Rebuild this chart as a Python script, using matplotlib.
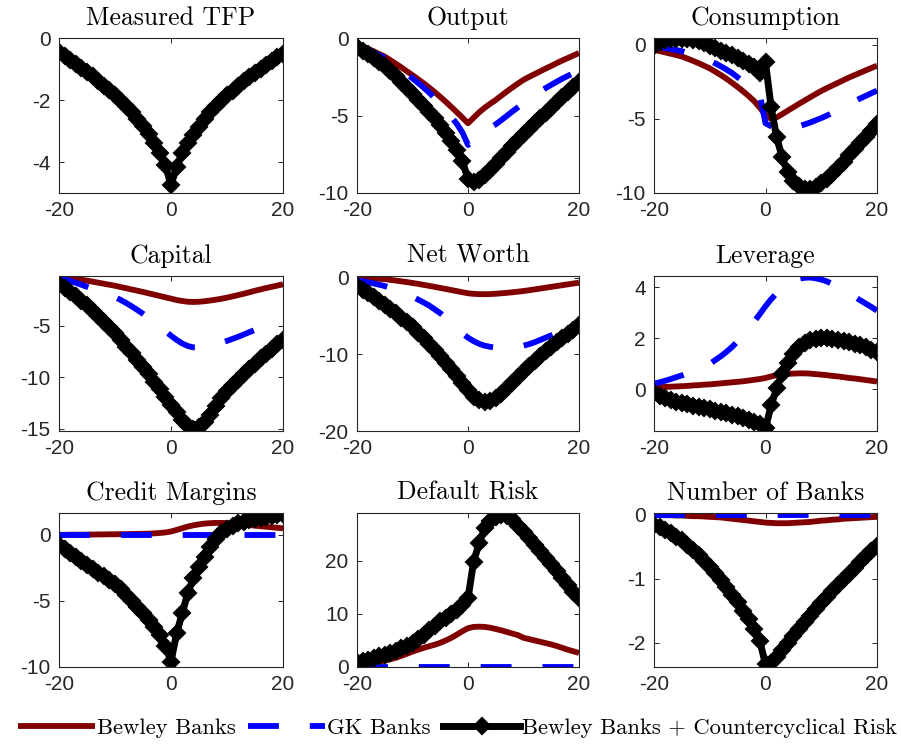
import matplotlib
matplotlib.use("Agg")
import matplotlib.pyplot as plt
import numpy as np

plt.rcParams['axes.unicode_minus'] = False

t = list(range(-20, 21))

titles = ["Measured TFP", "Output", "Consumption", "Capital", "Net Worth",
          "Leverage", "Credit Margins", "Default Risk", "Number of Banks"]
series_labels = ["Bewley Banks", "GK Banks", "Bewley Banks + Countercyclical Risk"]

# ---- Measured TFP (identical in all three economies) ----
tfp = [-0.45, -0.57, -0.70, -0.83, -0.96, -1.10, -1.24, -1.39, -1.54, -1.69, -1.85,
       -2.02, -2.20, -2.39, -2.60, -2.85, -3.10, -3.38, -3.70, -4.10, -4.75,
       -4.15, -3.72, -3.40, -3.12, -2.87, -2.62, -2.40, -2.20, -2.02, -1.85,
       -1.70, -1.55, -1.40, -1.26, -1.12, -0.99, -0.86, -0.73, -0.61, -0.50]

# ---- Output ----
out_bewley = [-0.40, -0.55, -0.70, -0.86, -1.03, -1.20, -1.43, -1.66, -1.90, -2.15, -2.40,
              -2.66, -2.92, -3.20, -3.49, -3.80, -4.12, -4.45, -4.79, -5.14, -5.50,
              -5.15, -4.80, -4.50, -4.24, -4.00, -3.72, -3.45, -3.19, -2.94, -2.70,
              -2.51, -2.33, -2.15, -1.97, -1.80, -1.62, -1.45, -1.29, -1.13, -0.97]
out_gk = [-0.40, -0.57, -0.74, -0.92, -1.10, -1.30, -1.55, -1.80, -2.06, -2.33, -2.60,
          -2.90, -3.20, -3.52, -3.88, -4.25, -4.65, -5.08, -5.55, -6.10, -6.90,
          -6.60, -6.30, -6.03, -5.80, -5.57, -5.30, -5.02, -4.74, -4.47, -4.20,
          -3.95, -3.70, -3.45, -3.23, -3.02, -2.82, -2.62, -2.44, -2.27, -2.10]
out_ccr = [-0.60, -0.83, -1.06, -1.30, -1.55, -1.80, -2.14, -2.48, -2.84, -3.21, -3.60,
           -3.98, -4.37, -4.77, -5.18, -5.60, -6.10, -6.62, -7.20, -7.95, -9.10,
           -9.30, -9.15, -8.85, -8.50, -8.12, -7.73, -7.35, -6.96, -6.58, -6.20,
           -5.85, -5.50, -5.16, -4.83, -4.50, -4.15, -3.82, -3.49, -3.17, -2.85]

# ---- Consumption ----
con_bewley = [-0.35, -0.43, -0.52, -0.61, -0.70, -0.80, -0.94, -1.09, -1.25, -1.42, -1.60,
              -1.82, -2.05, -2.30, -2.57, -2.85, -3.15, -3.47, -3.82, -4.25, -4.75,
              -5.00, -4.90, -4.68, -4.45, -4.22, -3.99, -3.77, -3.55, -3.33, -3.12,
              -2.93, -2.75, -2.57, -2.39, -2.21, -2.05, -1.89, -1.73, -1.57, -1.42]
con_gk = [-0.10, -0.15, -0.22, -0.29, -0.36, -0.44, -0.55, -0.67, -0.80, -0.94, -1.08,
          -1.26, -1.46, -1.68, -1.91, -2.20, -2.48, -2.76, -3.05, -3.40, -5.30,
          -5.50, -5.68, -5.72, -5.68, -5.60, -5.50, -5.38, -5.25, -5.10, -4.95,
          -4.78, -4.60, -4.40, -4.20, -4.00, -3.80, -3.62, -3.45, -3.27, -3.10]
con_ccr = [-0.10, 0.15, 0.30, 0.35, 0.40, 0.40, 0.38, 0.33, 0.22, 0.08, -0.10,
           -0.25, -0.40, -0.55, -0.72, -0.90, -1.08, -1.30, -1.50, -1.90, -1.20,
           -4.20, -6.25, -7.60, -8.60, -9.20, -9.50, -9.70, -9.75, -9.60, -9.35,
           -9.05, -8.70, -8.30, -7.90, -7.45, -7.00, -6.60, -6.20, -5.80, -5.35]

# ---- Capital ----
cap_bewley = [-0.15, -0.24, -0.33, -0.42, -0.51, -0.60, -0.70, -0.80, -0.90, -1.00, -1.10,
              -1.22, -1.34, -1.46, -1.58, -1.70, -1.83, -1.96, -2.09, -2.22, -2.35,
              -2.48, -2.58, -2.65, -2.67, -2.65, -2.60, -2.53, -2.45, -2.36, -2.25,
              -2.13, -2.00, -1.87, -1.73, -1.58, -1.45, -1.32, -1.20, -1.08, -0.96]
cap_gk = [-0.30, -0.46, -0.63, -0.81, -1.00, -1.20, -1.39, -1.58, -1.78, -1.98, -2.20,
          -2.47, -2.77, -3.10, -3.45, -3.82, -4.22, -4.63, -5.05, -5.50, -5.95,
          -6.35, -6.70, -6.95, -7.08, -7.10, -7.05, -6.95, -6.80, -6.62, -6.45,
          -6.25, -6.05, -5.83, -5.60, -5.38, -5.17, -4.97, -4.78, -4.60, -4.42]
cap_ccr = [-0.90, -1.30, -1.71, -2.13, -2.56, -3.00, -3.52, -4.05, -4.58, -5.13, -5.70,
           -6.35, -7.00, -7.65, -8.32, -9.00, -9.70, -10.42, -11.15, -11.90, -12.70,
           -13.40, -14.10, -14.70, -15.00, -14.80, -14.30, -13.60, -12.80, -12.00, -11.30,
           -10.70, -10.20, -9.70, -9.15, -8.65, -8.15, -7.70, -7.25, -6.80, -6.40]

# ---- Net Worth ----
nw_bewley = [0.05, 0.01, -0.03, -0.07, -0.11, -0.15, -0.24, -0.34, -0.44, -0.54, -0.65,
             -0.77, -0.90, -1.03, -1.16, -1.30, -1.44, -1.58, -1.72, -1.86, -2.00,
             -2.07, -2.11, -2.12, -2.10, -2.06, -2.00, -1.94, -1.87, -1.79, -1.70,
             -1.60, -1.49, -1.38, -1.27, -1.16, -1.05, -0.94, -0.83, -0.72, -0.61]
nw_gk = [-0.30, -0.42, -0.56, -0.71, -0.88, -1.06, -1.27, -1.50, -1.78, -2.10, -2.45,
         -2.82, -3.20, -3.60, -4.10, -4.60, -5.20, -5.85, -6.55, -7.25, -7.80,
         -8.25, -8.60, -8.85, -9.00, -9.10, -9.15, -9.15, -9.10, -9.00, -8.85,
         -8.65, -8.40, -8.10, -7.80, -7.50, -7.20, -6.90, -6.60, -6.35, -6.10]
nw_ccr = [-1.10, -1.55, -2.02, -2.50, -3.00, -3.50, -4.05, -4.62, -5.20, -5.80, -6.40,
          -7.15, -7.90, -8.65, -9.45, -10.25, -11.10, -11.95, -12.85, -13.75, -14.70,
          -15.50, -16.00, -16.25, -16.10, -15.70, -15.10, -14.40, -13.70, -12.90, -12.15,
          -11.50, -10.85, -10.25, -9.60, -9.00, -8.40, -7.85, -7.30, -6.75, -6.20]

# ---- Leverage ----
lev_bewley = [0.08, 0.09, 0.10, 0.11, 0.12, 0.13, 0.14, 0.16, 0.17, 0.19, 0.20,
              0.22, 0.24, 0.26, 0.28, 0.30, 0.32, 0.35, 0.38, 0.41, 0.45,
              0.51, 0.56, 0.59, 0.61, 0.62, 0.63, 0.63, 0.62, 0.60, 0.58,
              0.56, 0.53, 0.51, 0.48, 0.45, 0.43, 0.40, 0.37, 0.34, 0.31]
lev_gk = [0.23, 0.28, 0.34, 0.41, 0.48, 0.55, 0.63, 0.71, 0.80, 0.90, 1.00,
          1.15, 1.30, 1.47, 1.66, 1.88, 2.12, 2.38, 2.66, 2.95, 3.25,
          3.52, 3.76, 3.96, 4.12, 4.24, 4.32, 4.36, 4.37, 4.34, 4.29,
          4.22, 4.12, 4.00, 3.87, 3.75, 3.62, 3.48, 3.35, 3.22, 3.08]
lev_ccr = [-0.15, -0.25, -0.33, -0.40, -0.47, -0.53, -0.58, -0.63, -0.68, -0.73, -0.78,
           -0.83, -0.88, -0.93, -0.99, -1.05, -1.11, -1.18, -1.26, -1.36, -1.52,
           -0.62, 0.05, 0.62, 1.05, 1.40, 1.65, 1.82, 1.93, 1.99, 2.01,
           2.00, 1.97, 1.93, 1.89, 1.84, 1.78, 1.72, 1.65, 1.55, 1.45]

# ---- Credit Margins ----
cm_bewley = [0.00, 0.00, 0.01, 0.01, 0.01, 0.02, 0.02, 0.03, 0.03, 0.04, 0.04,
             0.05, 0.05, 0.06, 0.07, 0.08, 0.09, 0.11, 0.14, 0.18, 0.25,
             0.37, 0.50, 0.62, 0.72, 0.79, 0.85, 0.88, 0.90, 0.90, 0.89,
             0.86, 0.82, 0.78, 0.74, 0.69, 0.65, 0.61, 0.57, 0.53, 0.49]
cm_gk = [0.0] * 41
cm_ccr = [-0.75, -1.05, -1.35, -1.65, -1.97, -2.30, -2.58, -2.86, -3.13, -3.41, -3.70,
          -4.12, -4.55, -5.00, -5.47, -5.95, -6.45, -7.00, -7.60, -8.40, -9.60,
          -7.45, -5.95, -4.40, -3.30, -2.40, -1.65, -0.95, -0.35, 0.10, 0.45,
          0.70, 0.88, 1.00, 1.10, 1.20, 1.28, 1.36, 1.44, 1.52, 1.60]

# ---- Default Risk ----
dr_bewley = [0.60, 0.70, 0.80, 0.90, 1.00, 1.20, 1.45, 1.75, 2.10, 2.50, 2.90,
             3.25, 3.60, 3.90, 4.20, 4.55, 5.00, 5.50, 6.10, 6.75, 7.30,
             7.55, 7.60, 7.55, 7.40, 7.15, 6.90, 6.60, 6.30, 6.00, 5.50,
             5.25, 5.00, 4.75, 4.50, 4.25, 3.95, 3.60, 3.25, 2.95, 2.65]
dr_gk = [0.0] * 41
dr_ccr = [0.90, 1.15, 1.40, 1.70, 2.00, 2.30, 2.65, 3.05, 3.50, 4.00, 4.50,
          5.20, 6.00, 6.90, 7.80, 8.60, 9.30, 10.00, 10.75, 11.70, 12.90,
          19.80, 23.30, 26.10, 27.40, 28.30, 28.70, 28.40, 27.80, 26.60, 25.40,
          24.20, 23.00, 21.80, 20.60, 19.40, 18.10, 16.80, 15.50, 14.20, 12.90]

# ---- Number of Banks ----
nb_bewley = [0.000, 0.000, -0.005, -0.005, -0.010, -0.010, -0.015, -0.020, -0.020, -0.025, -0.030,
             -0.035, -0.040, -0.050, -0.060, -0.070, -0.080, -0.090, -0.100, -0.110, -0.120,
             -0.125, -0.130, -0.130, -0.130, -0.125, -0.120, -0.115, -0.110, -0.100, -0.090,
             -0.085, -0.075, -0.070, -0.060, -0.055, -0.050, -0.045, -0.040, -0.035, -0.030]
nb_gk = [0.0] * 41
nb_ccr = [-0.15, -0.19, -0.24, -0.29, -0.34, -0.40, -0.47, -0.55, -0.63, -0.72, -0.81,
          -0.91, -1.02, -1.13, -1.25, -1.37, -1.50, -1.63, -1.78, -1.98, -2.34,
          -2.32, -2.22, -2.12, -2.01, -1.90, -1.79, -1.68, -1.58, -1.48, -1.38,
          -1.29, -1.19, -1.10, -1.01, -0.92, -0.83, -0.74, -0.65, -0.56, -0.48]

panels = [
    (tfp, tfp, tfp),
    (out_bewley, out_gk, out_ccr),
    (con_bewley, con_gk, con_ccr),
    (cap_bewley, cap_gk, cap_ccr),
    (nw_bewley, nw_gk, nw_ccr),
    (lev_bewley, lev_gk, lev_ccr),
    (cm_bewley, cm_gk, cm_ccr),
    (dr_bewley, dr_gk, dr_ccr),
    (nb_bewley, nb_gk, nb_ccr),
]
ylims = [(-5, 0), (-10, 0), (-10, 0.45), (-15.2, -0.15), (-20, 0.26),
         (-1.62, 4.43), (-10, 1.65), (0, 29), (-2.38, 0.03)]
yticks = [[-4, -2, 0], [-10, -5, 0], [-10, -5, 0], [-15, -10, -5], [-20, -10, 0],
          [0, 2, 4], [-10, -5, 0], [0, 10, 20], [-2, -1, 0]]
xticks = [-20, 0, 20]

W, H = 901, 744
fig = plt.figure(figsize=(W / 100, H / 100), dpi=100)
cols = [(59, 283), (357, 579), (654, 877)]
rows = [(38, 193), (276, 431), (513, 667)]

axis_color = '#262626'
lw = 4.2
handles = None
for i, (title, data) in enumerate(zip(titles, panels)):
    r, c = divmod(i, 3)
    x0, x1 = cols[c]
    y0, y1 = rows[r]
    ax = fig.add_axes([x0 / W, 1 - y1 / H, (x1 - x0) / W, (y1 - y0) / H])
    b, g, k = data
    h1, = ax.plot(t, b, color='#800000', lw=lw, solid_capstyle='butt')
    h2, = ax.plot(t, g, color='#0000ff', lw=lw, dashes=(5.3, 5.3), dash_capstyle='butt')
    h3, = ax.plot(t, k, color='black', lw=5.0, marker='D', markersize=8.5,
                  markeredgewidth=1.5)
    if handles is None:
        handles = [h1, h2, h3]
    ax.set_xlim(-20, 20)
    ax.set_ylim(*ylims[i])
    ax.set_xticks(xticks)
    ax.set_yticks(yticks[i])
    ax.set_title(title, fontfamily='cmr10', fontsize=18.5, pad=9.5)
    ax.tick_params(direction='in', top=True, right=True, length=3.5, width=0.7,
                   colors=axis_color, labelsize=15, pad=6)
    for lab in ax.get_xticklabels() + ax.get_yticklabels():
        lab.set_fontfamily('Liberation Sans')
        lab.set_color(axis_color)
    for s in ax.spines.values():
        s.set_color(axis_color)
        s.set_linewidth(0.8)

fig.legend(handles, series_labels, loc='center', bbox_to_anchor=(457.5 / W, 1 - 728 / H),
           ncol=3, frameon=False, prop={'family': 'cmr10', 'size': 16.3},
           handlelength=3.4, handletextpad=0.1, columnspacing=0.55, borderaxespad=0)

fig.savefig('out.png', dpi=100)
